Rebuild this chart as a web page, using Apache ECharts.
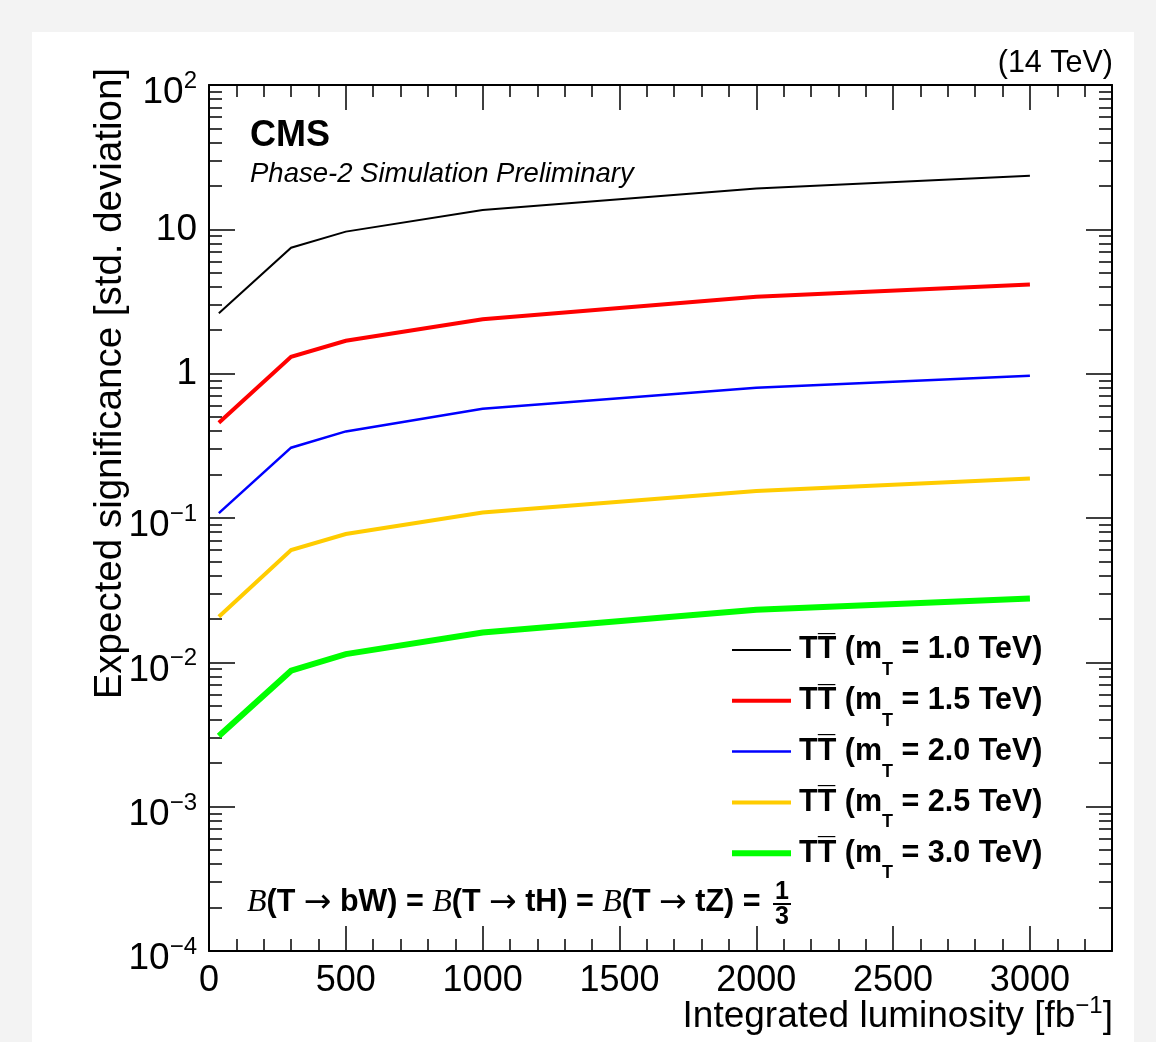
<!DOCTYPE html>
<html>
<head>
<meta charset="utf-8">
<script src="https://cdn.jsdelivr.net/npm/echarts@6/dist/echarts.min.js"></script>
<style>
  html, body { margin: 0; padding: 0; background: #f3f3f3; }
  #panel { position: absolute; left: 32px; top: 32px; width: 1102px; height: 1010px; background: #ffffff; }
  #chart { position: absolute; left: 0; top: 0; width: 1156px; height: 1042px; }
</style>
</head>
<body>
<div id="panel"></div>
<div id="chart"></div>
<script>
// Integrated luminosity points [fb^-1]
const luminosity = [36, 300, 500, 1000, 2000, 3000];

// Vector-like quark masses [TeV]
const masses = ['1.0', '1.5', '2.0', '2.5', '3.0'];

// Expected significance for each mass hypothesis
const sigM10 = [2.62, 7.46, 9.64, 13.6, 19.2, 23.5];
const sigM15 = [0.457, 1.31, 1.69, 2.38, 3.41, 4.14];
const sigM20 = [0.108, 0.307, 0.398, 0.572, 0.80, 0.968];
const sigM25 = [0.0207, 0.060, 0.0774, 0.109, 0.154, 0.188];
const sigM30 = [0.00309, 0.00875, 0.0114, 0.0161, 0.0231, 0.0277];

const sans = '"Liberation Sans", Arial, Helvetica, sans-serif';
const serif = '"Liberation Serif", "Times New Roman", serif';

const seriesValues = [sigM10, sigM15, sigM20, sigM25, sigM30];
const seriesColors = ['#000000', '#ff0000', '#0000ff', '#ffcc00', '#00ff00'];
const seriesWidths = [2, 4, 2.5, 4, 6];

// minor log ticks at 2..9 x 10^k
const yMinorTicks = [];
for (let e = -4; e < 2; e++) {
  for (let m = 2; m <= 9; m++) yMinorTicks.push(+(m * Math.pow(10, e)).toPrecision(3));
}

function yLabel(v) {
  const e = Math.round(Math.log10(v));
  if (e === 0) return '1';
  if (e === 1) return '10';
  const exp = e < 0 ? '\u2212' + (-e) : String(e);
  return '{b|10}{sup|' + exp + '}';
}

const chart = echarts.init(document.getElementById('chart'), null, { renderer: 'canvas' });

const tickStyle = { color: '#000', width: 1.5 };
const lineStyleFrame = { color: '#000', width: 2 };
const gridBox = { left: 209, right: 44, top: 85, bottom: 91, containLabel: false };

const xBase = {
  type: 'value', min: 0, max: 3300, interval: 500,
  splitLine: { show: false },
  axisLine: { show: true, onZero: false, lineStyle: lineStyleFrame },
  axisTick: { show: true, inside: true, length: 25, lineStyle: tickStyle },
  minorTick: { show: true, splitNumber: 5, length: 12, lineStyle: tickStyle }
};

const yBase = {
  type: 'log', logBase: 10, min: 1e-4, max: 100, splitNumber: 6,
  splitLine: { show: false }
};

// power-of-ten labels: mantissa sits a little below the tick, exponent raised
const yLabelStyle = {
  show: true, color: '#000', fontFamily: sans, fontSize: 37, margin: 12,
  formatter: yLabel,
  rich: {
    b: { fontSize: 37, fontFamily: sans, color: '#000', lineHeight: 53, verticalAlign: 'bottom' },
    sup: { fontSize: 24, fontFamily: sans, color: '#000', lineHeight: 24, verticalAlign: 'top', padding: [11, 0, 0, 0] }
  }
};

function legendText(name) {
  return '{b|TT\u0305 (m}{sub|T}{b| = ' + name + ' TeV)}';
}

const hiddenX = { type: 'value', min: 0, max: 3300, show: false };

const option = {
  backgroundColor: 'transparent',
  animation: false,
  grid: [Object.assign({}, gridBox), Object.assign({}, gridBox), Object.assign({}, gridBox)],
  xAxis: [
    Object.assign({}, xBase, {
      gridIndex: 0, position: 'bottom',
      axisLabel: { color: '#000', fontFamily: sans, fontSize: 36, margin: 12,
        formatter: v => (v > 3000 ? '' : String(v)) }
    }),
    Object.assign({}, xBase, { gridIndex: 0, position: 'top', axisLabel: { show: false } }),
    Object.assign({}, hiddenX, { gridIndex: 1 }),
    Object.assign({}, hiddenX, { gridIndex: 2 })
  ],
  yAxis: [
    Object.assign({}, yBase, {
      gridIndex: 0, position: 'left',
      axisLine: { show: true, onZero: false, lineStyle: lineStyleFrame },
      axisTick: { show: true, inside: true, length: 26, lineStyle: tickStyle },
      axisLabel: yLabelStyle
    }),
    Object.assign({}, yBase, {
      gridIndex: 0, position: 'right',
      axisLine: { show: true, onZero: false, lineStyle: lineStyleFrame },
      axisTick: { show: true, inside: true, length: 26, lineStyle: tickStyle },
      axisLabel: { show: false }
    }),
    Object.assign({}, yBase, {
      gridIndex: 1, position: 'left',
      axisLine: { show: false, onZero: false },
      axisTick: { show: true, inside: true, length: 13, lineStyle: tickStyle, customValues: yMinorTicks },
      axisLabel: { show: false }
    }),
    Object.assign({}, yBase, {
      gridIndex: 2, position: 'right',
      axisLine: { show: false, onZero: false },
      axisTick: { show: true, inside: true, length: 13, lineStyle: tickStyle, customValues: yMinorTicks },
      axisLabel: { show: false }
    })
  ],
  legend: {
    orient: 'vertical', left: 729, top: 621, padding: 0,
    itemWidth: 59, itemHeight: 14, itemGap: -7.2,
    selectedMode: false,
    itemStyle: { opacity: 0 },
    data: masses.map((m, i) => ({
      name: m,
      itemStyle: { opacity: 0 },
      lineStyle: { color: seriesColors[i], width: seriesWidths[i] }
    })),
    formatter: legendText,
    textStyle: {
      padding: [0, 0, 0, 3],
      rich: {
        b: { fontFamily: sans, fontWeight: 'bold', fontSize: 30.5, color: '#000', lineHeight: 58 },
        sub: { fontFamily: sans, fontWeight: 'bold', fontSize: 18, color: '#000', lineHeight: 18, padding: [40, 0, 0, 0] }
      }
    }
  },
  series: masses.map((m, i) => ({
    name: m,
    type: 'line',
    xAxisIndex: 0,
    yAxisIndex: 0,
    symbol: 'none',
    smooth: false,
    lineStyle: { color: seriesColors[i], width: seriesWidths[i], cap: 'butt', join: 'miter' },
    itemStyle: { color: seriesColors[i] },
    data: luminosity.map((x, j) => [x, seriesValues[i][j]]),
    z: 3
  })),
  graphic: [
    { type: 'text', left: 250, top: 118,
      style: { text: 'CMS', font: 'bold 36px ' + sans, fill: '#000' } },
    { type: 'text', left: 250, top: 161,
      style: { text: 'Phase-2 Simulation Preliminary', font: 'italic 27.5px ' + sans, fill: '#000' } },
    { type: 'text', x: 1113, y: 79,
      style: { text: '(14 TeV)', font: '30.5px ' + sans, fill: '#000', align: 'right', verticalAlign: 'bottom' } },
    { type: 'text', x: 110, y: 68, rotation: Math.PI / 2,
      style: { text: 'Expected significance [std. deviation]', font: '38.5px ' + sans, fill: '#000',
        align: 'right', verticalAlign: 'middle' } },
    { type: 'text', x: 1113, y: 1035,
      style: {
        text: '{t|Integrated luminosity [fb}{s|\u22121}{t|]}', align: 'right', verticalAlign: 'bottom',
        rich: {
          t: { font: '37px ' + sans, fill: '#000', lineHeight: 37, verticalAlign: 'bottom' },
          s: { font: '24px ' + sans, fill: '#000', lineHeight: 24, verticalAlign: 'bottom', padding: [0, 0, 17, 0] }
        }
      } },
    { type: 'text', x: 247, y: 903,
      style: {
        text: '{i|B}{b|(T }{a|\u2192}{b| bW) = }{i|B}{b|(T }{a|\u2192}{b| tH) = }{i|B}{b|(T }{a|\u2192}{b| tZ) =}',
        verticalAlign: 'middle', align: 'left',
        rich: {
          i: { font: 'italic 32px ' + serif, fill: '#000' },
          b: { font: 'bold 30.5px ' + sans, fill: '#000' },
          a: { font: '33px "DejaVu Sans", sans-serif', fill: '#000' }
        }
      } },
    { type: 'text', x: 782, y: 892,
      style: { text: '1', font: 'bold 25px ' + sans, fill: '#000', align: 'center', verticalAlign: 'middle' } },
    { type: 'line', shape: { x1: 773, y1: 904, x2: 791, y2: 904 }, style: { stroke: '#000', lineWidth: 2 } },
    { type: 'text', x: 782, y: 917,
      style: { text: '3', font: 'bold 25px ' + sans, fill: '#000', align: 'center', verticalAlign: 'middle' } }
  ]
};

chart.setOption(option);
</script>
</body>
</html>
